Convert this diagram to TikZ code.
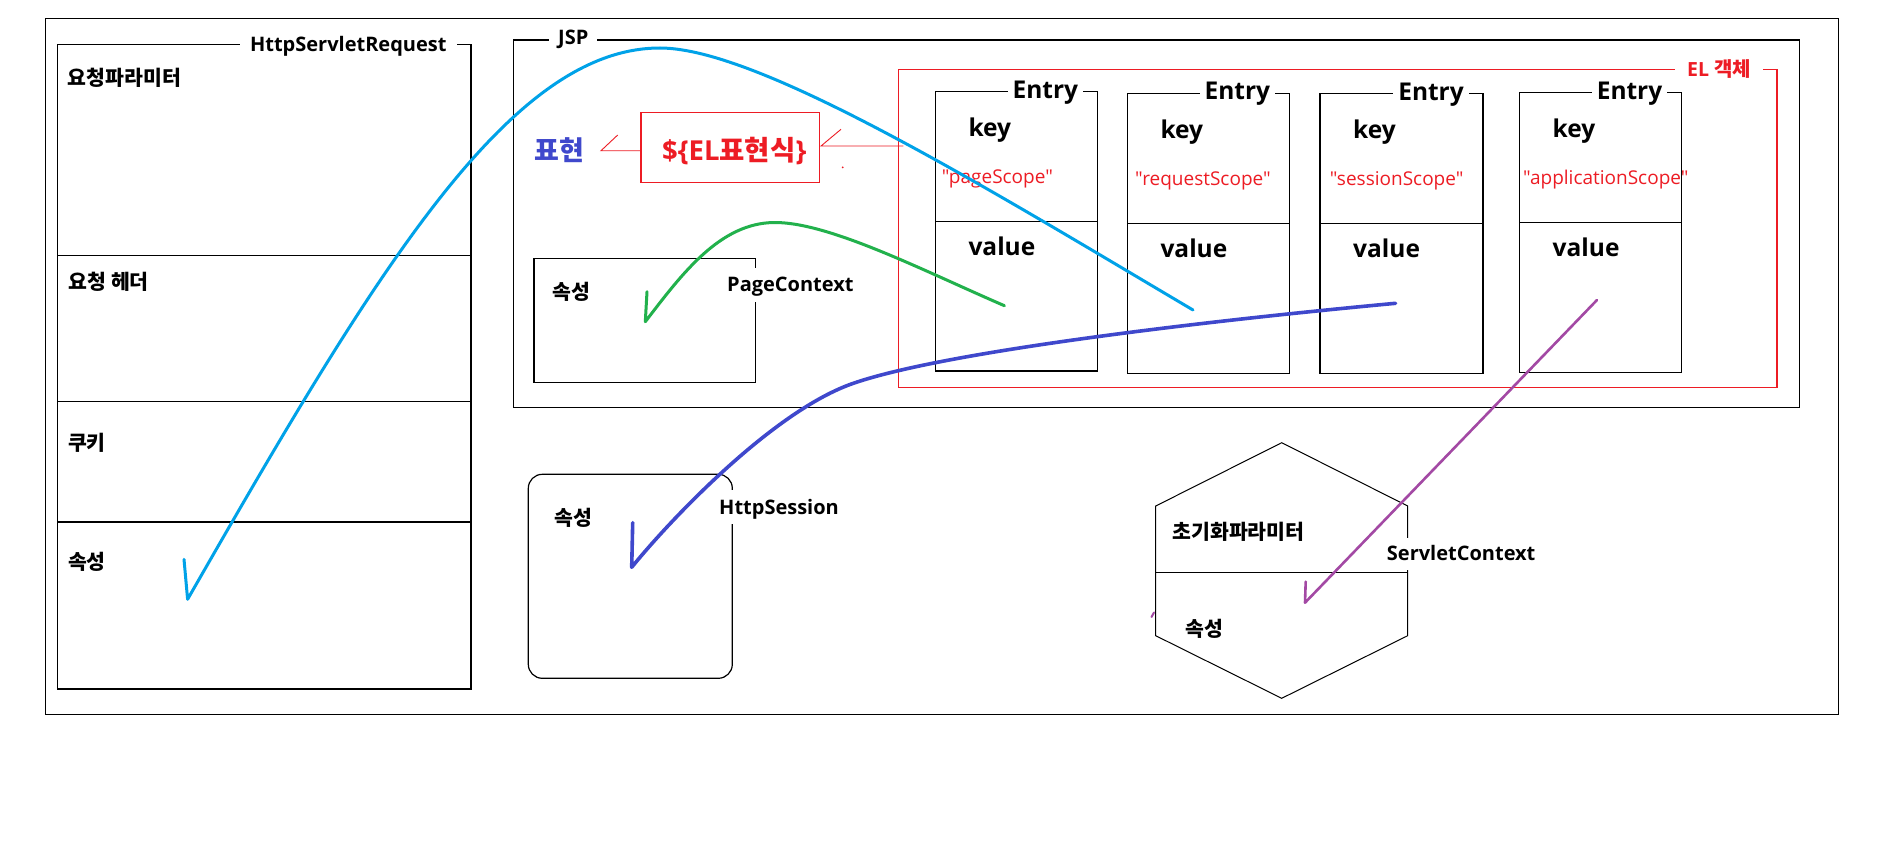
\documentclass[tikz,border=0pt]{standalone}
\usepackage{fontspec}
\setmainfont{Open Sans}
\newfontfamily\kr{Noto Sans CJK KR}
\newfontfamily\scopef{Open Sans}[Ligatures=TeXOff]
\definecolor{elred}{HTML}{ED1C24}
\definecolor{cyanl}{HTML}{00A2E8}
\definecolor{greenl}{HTML}{22B14C}
\definecolor{bluel}{HTML}{3F48CC}
\definecolor{purplel}{HTML}{A349A4}
\newcommand\lat[1]{\fontsize{#1}{#1}\selectfont\bfseries}
\newcommand\krt[1]{\kr\fontsize{#1}{#1}\selectfont\bfseries}
\newcommand\qq[1]{"#1"}
\tikzset{
  frame/.style={draw=black, line width=1.2pt},
  thin/.style={draw=black, line width=1pt},
  redbox/.style={draw=elred, line width=1.2pt},
  ttl/.style={fill=white, inner xsep=6pt, inner ysep=2pt, anchor=base, font=\lat{20}},
  side/.style={fill=white, inner xsep=0pt, inner ysep=0pt, anchor=base west, text height=24pt, text depth=10pt, font=\lat{20}},
  kr/.style={inner sep=0pt, anchor=west, font=\krt{20.5}},
  entryt/.style={fill=white, inner xsep=5pt, inner ysep=1pt, anchor=base east, font=\lat{24.5}},
  big/.style={inner sep=0pt, anchor=base west, font=\lat{24.5}},
  scope/.style={inner sep=0pt, anchor=base west, text=elred, font=\scopef\fontsize{19}{19}\selectfont},
  redarr/.style={draw=elred, line width=0.9pt},
  curve/.style={line width=3pt, line cap=round, line join=round},
}
\begin{document}
\begin{tikzpicture}[x=1pt,y=-1pt]
\useasboundingbox (0,0) rectangle (1898,859);
\fill[white] (0,0) rectangle (1898,859);
% outer frame
\draw[thin] (45.5,18.3) rectangle (1838,714);
% HttpServletRequest
\draw[frame] (57.5,44.3) rectangle (471,689);
\draw[frame] (57.5,255.3) -- (471,255.3);
\draw[frame] (57.5,401.3) -- (471,401.3);
\draw[frame] (57.5,522) -- (471,522);
\node[ttl, inner xsep=10pt] (hsr) at (348.3,51.7) {HttpServletRequest};
\node[kr] (param) at (67.5,78.3) {요청파라미터};
\node[kr] (header) at (68.5,281.7) {요청 헤더};
\node[kr] (cookie) at (67.8,443.3) {쿠키};
\node[kr] (attr1) at (67.8,561.7) {속성};
% JSP
\draw[frame] (513.7,40) rectangle (1799.5,407.3);
\node[ttl, inner xsep=9pt] (jsp) at (573.3,44.3) {JSP};
% EL object box
\draw[redbox] (898.3,69.3) rectangle (1777,387.3);
\node[ttl, text=elred, inner xsep=12pt, font=\lat{19.5}] (elobj) at (1719,76.7) {EL {\krt{20}객체}};
% Entries
\foreach \n/\l/\r/\t/\d/\b/\s/\sx in {1/935.3/1097.3/91.7/221.3/371/pageScope/941.7,
                                  2/1127.3/1289.3/93.3/223.3/373.3/requestScope/1135,
                                  3/1320/1483/93.5/223.3/373.3/sessionScope/1329.7,
                                  4/1519.5/1681.5/92.7/222.3/372.3/applicationScope/1523}{
  \draw[frame] (\l,\t) rectangle (\r,\b);
  \draw[frame] (\l,\d) -- (\r,\d);
  \node[entryt] (entry\n) at (\r-14,\t+6.5) {Entry};
  \node[big] (key\n) at (\l+33,\t+45) {key};
  \node[scope] (scope\n) at (\sx,\t+92) {\qq{\s}};
  \node[big] (value\n) at (\l+33,\d+33.7) {value};
}
% EL expression
\node[draw=elred, line width=1.2pt, minimum width=178.3pt, minimum height=70pt, inner sep=0pt] (expr) at (730.2,147.7) {};
\node[inner sep=0pt, anchor=base west, text=elred, font=\lat{27.5}] (exprt) at (662,160) {\$\{EL{\krt{27.5}표현식}\}};
\node[inner sep=0pt, anchor=west, text=bluel, font=\krt{27}] (pyo) at (534,150.5) {표현};
\coordinate (la) at (601,150.7);
\coordinate (ra) at (821,146);
\coordinate (rs) at (903.3,146);
\draw[redarr] (expr.west |- la) -- (la) -- ++(16.7,-15.7);
\draw[redarr] (rs) -- (ra) -- ++(20,-16.7);
\fill[elred] (842.7,167.3) circle (1pt);
% PageContext
\draw[frame] (534,258.3) rectangle (755.5,382.3);
\node[side] (pc) at (727,291.7) {PageContext};
\node[kr] (attr2) at (552.6,291.7) {속성};
% HttpSession
\draw[frame, rounded corners=14pt] (528.3,474.3) rectangle (732.3,678.3);
\node[side] (hs) at (719,514) {HttpSession};
\node[kr] (attr3) at (554,518.3) {속성};
% ServletContext hexagon
\draw[thin] (1281.7,442.7) -- (1407.7,506) -- (1407.7,635.7) -- (1281.7,698.3) -- (1155.7,635.7) -- (1155.7,506) -- cycle;
\draw[thin] (1155.7,572.3) -- (1407.7,572.3);
\node[side, text height=22pt] (sc) at (1386.7,560.3) {ServletContext};
\node[kr] (init) at (1172.3,531.7) {초기화파라미터};
\node[kr] (attr4) at (1185,629) {속성};
% curves
\coordinate (cyS) at (1193,310);
\coordinate (cyP) at (660,48);
\coordinate (cyE) at (187.6,599.3);
\draw[curve, cyanl] (cyS) .. controls (990,190) and (760,48) .. (cyP)
  .. controls (510,48) and (376.5,269.5) .. (cyE) -- (184,559.3);
\coordinate (grS) at (1004.4,305.7);
\coordinate (grP) at (775,222.5);
\coordinate (grE) at (645.3,321.7);
\draw[curve, greenl] (grS) .. controls (924,271) and (830,222.5) .. (grP)
  .. controls (720,222.5) and (681.8,274.1) .. (grE) -- (647,291.7);
\coordinate (blS) at (1395.6,303.3);
\coordinate (blM) at (853.3,383.3);
\coordinate (blE) at (631.7,567.3);
\draw[curve, bluel, line width=3.6pt] (blS) .. controls (1216.3,320) and (947.8,350.6) .. (blM)
  .. controls (773,411) and (669.4,520.7) .. (blE) -- (632.7,522.7);
\coordinate (puS) at (1597,300);
\coordinate (puE) at (1305,602.7);
\draw[curve, purplel, line width=2.6pt] (puS) -- (puE) -- (1305.7,581.7);
\draw[curve, purplel, line width=2pt] (1151.5,617) -- (1154,612.5);
\end{tikzpicture}
\end{document}
